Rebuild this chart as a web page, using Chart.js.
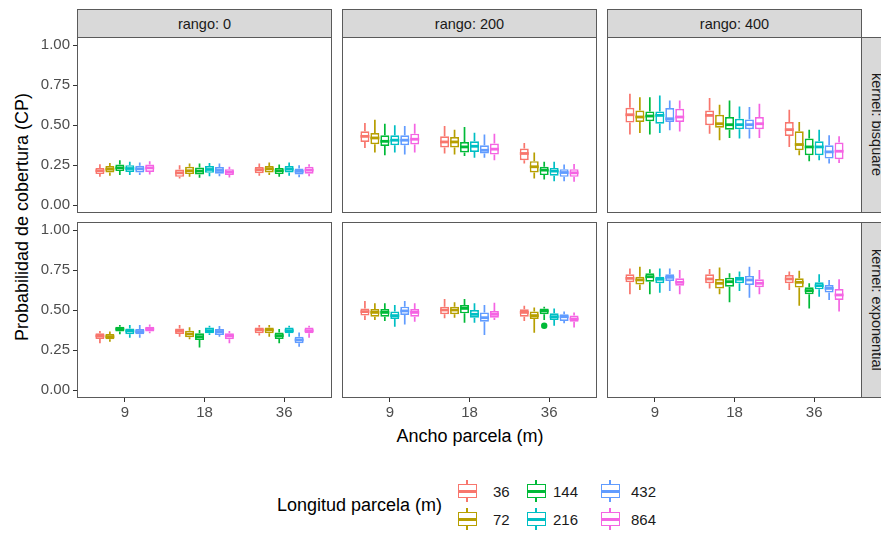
<!DOCTYPE html>
<html>
<head>
<meta charset="utf-8">
<script src="https://cdn.jsdelivr.net/npm/chart.js@4.4.0/dist/chart.umd.min.js"></script>
<style>
    body { margin: 0; width: 881px; height: 533px; overflow: hidden; background: #fff; position: relative;
           font-family: "Liberation Sans", Arial, sans-serif; }
    canvas { position: absolute; }
    .strip { position: absolute; background: #d9d9d9; border: 1px solid #5a5a5a; box-sizing: border-box;
             display: flex; align-items: center; justify-content: center; color: #1a1a1a; font-size: 14.5px; }
    .strip.side { writing-mode: vertical-rl; padding-left: 3px; }
    .title { position: absolute; color: #000; font-size: 18px; white-space: nowrap; }
    .key { position: absolute; width: 21px; height: 22px; }
    .key .wh { position: absolute; left: 9.5px; top: 0; width: 2px; height: 22px; }
    .key .bx { position: absolute; left: 1px; top: 4px; width: 19px; height: 14px; box-sizing: border-box;
               border: 1.6px solid; background: #fff; }
    .key .md { position: absolute; left: 1px; top: 10px; width: 19px; height: 2.5px; }
    .lab { position: absolute; font-size: 15px; color: #1a1a1a; transform: translateY(-50%); }
</style>
</head>
<body>
<div class="title" style="left:22px;top:217px;transform:translate(-50%,-50%) rotate(-90deg)">Probabilidad de cobertura (CP)</div>
<div class="title" style="left:470px;top:436px;transform:translate(-50%,-50%)">Ancho parcela (m)</div>
<div class="title" style="left:277px;top:505px;transform:translateY(-50%)">Longitud parcela (m)</div>
<script>
// facets
const rangos = ['0', '200', '400'];
const kernels = ['bisquare', 'exponential'];
// x categories (ancho) and groups (longitud)
const anchos = ['9', '18', '36'];
const longitudes = ['36', '72', '144', '216', '432', '864'];
const yTicks = [0, 0.25, 0.5, 0.75, 1];
const colors = ['#F8766D', '#B79F00', '#00BA38', '#00BFC4', '#619CFF', '#F564E3'];

// [whisker low, q1, median, q3, whisker high] per longitud (rows) and ancho 9 / 18 / 36
const bisquare_0 = [
    [[0.176, 0.193, 0.214, 0.232, 0.255], [0.166, 0.176, 0.201, 0.222, 0.249], [0.183, 0.199, 0.220, 0.237, 0.259]],
    [[0.183, 0.203, 0.224, 0.243, 0.263], [0.176, 0.193, 0.214, 0.239, 0.259], [0.187, 0.203, 0.226, 0.243, 0.266]],
    [[0.187, 0.212, 0.232, 0.253, 0.280], [0.170, 0.191, 0.212, 0.234, 0.259], [0.176, 0.193, 0.214, 0.232, 0.253]],
    [[0.187, 0.207, 0.228, 0.249, 0.270], [0.180, 0.201, 0.222, 0.243, 0.263], [0.183, 0.203, 0.224, 0.243, 0.266]],
    [[0.187, 0.203, 0.226, 0.245, 0.266], [0.180, 0.195, 0.216, 0.237, 0.259], [0.174, 0.191, 0.210, 0.228, 0.249]],
    [[0.191, 0.207, 0.232, 0.253, 0.274], [0.172, 0.187, 0.205, 0.224, 0.239], [0.180, 0.195, 0.218, 0.239, 0.255]]
];
const bisquare_200 = [
    [[0.357, 0.394, 0.429, 0.461, 0.512], [0.322, 0.359, 0.394, 0.429, 0.494], [0.259, 0.280, 0.322, 0.353, 0.388]],
    [[0.328, 0.380, 0.419, 0.450, 0.533], [0.315, 0.359, 0.394, 0.425, 0.471], [0.166, 0.203, 0.239, 0.274, 0.328]],
    [[0.311, 0.369, 0.398, 0.436, 0.508], [0.307, 0.328, 0.363, 0.394, 0.488], [0.160, 0.187, 0.218, 0.239, 0.270]],
    [[0.328, 0.373, 0.405, 0.436, 0.498], [0.295, 0.332, 0.367, 0.398, 0.452], [0.149, 0.183, 0.212, 0.232, 0.270]],
    [[0.315, 0.373, 0.405, 0.436, 0.494], [0.295, 0.322, 0.342, 0.373, 0.440], [0.149, 0.176, 0.203, 0.224, 0.253]],
    [[0.328, 0.378, 0.411, 0.446, 0.508], [0.280, 0.315, 0.349, 0.384, 0.446], [0.145, 0.176, 0.201, 0.224, 0.257]]
];
const bisquare_400 = [
    [[0.440, 0.515, 0.564, 0.608, 0.695], [0.446, 0.498, 0.560, 0.591, 0.668], [0.363, 0.432, 0.471, 0.519, 0.595]],
    [[0.450, 0.519, 0.550, 0.591, 0.674], [0.405, 0.483, 0.508, 0.564, 0.627], [0.311, 0.342, 0.378, 0.461, 0.519]],
    [[0.440, 0.523, 0.556, 0.585, 0.674], [0.419, 0.471, 0.502, 0.550, 0.653], [0.274, 0.311, 0.363, 0.415, 0.471]],
    [[0.450, 0.508, 0.560, 0.585, 0.685], [0.415, 0.473, 0.502, 0.539, 0.616], [0.280, 0.311, 0.363, 0.398, 0.471]],
    [[0.467, 0.519, 0.539, 0.606, 0.653], [0.415, 0.473, 0.502, 0.535, 0.612], [0.259, 0.290, 0.332, 0.373, 0.436]],
    [[0.460, 0.519, 0.550, 0.602, 0.653], [0.419, 0.473, 0.508, 0.550, 0.633], [0.263, 0.286, 0.336, 0.390, 0.429]]
];
const exponential_0 = [
    [[0.292, 0.319, 0.338, 0.354, 0.369], [0.333, 0.350, 0.369, 0.385, 0.406], [0.340, 0.354, 0.375, 0.390, 0.406]],
    [[0.302, 0.317, 0.333, 0.350, 0.365], [0.317, 0.329, 0.350, 0.371, 0.392], [0.333, 0.354, 0.375, 0.390, 0.406]],
    [[0.348, 0.365, 0.381, 0.396, 0.406], [0.265, 0.313, 0.333, 0.354, 0.375], [0.292, 0.319, 0.340, 0.360, 0.381]],
    [[0.327, 0.348, 0.369, 0.385, 0.406], [0.344, 0.354, 0.371, 0.390, 0.402], [0.333, 0.354, 0.371, 0.390, 0.402]],
    [[0.327, 0.348, 0.365, 0.381, 0.406], [0.333, 0.344, 0.365, 0.381, 0.400], [0.271, 0.292, 0.313, 0.333, 0.360]],
    [[0.354, 0.365, 0.381, 0.396, 0.410], [0.292, 0.317, 0.338, 0.354, 0.369], [0.327, 0.354, 0.371, 0.390, 0.402]]
];
const exponential_200 = [
    [[0.438, 0.465, 0.490, 0.510, 0.556], [0.448, 0.473, 0.500, 0.521, 0.569], [0.431, 0.458, 0.485, 0.504, 0.527]],
    [[0.438, 0.458, 0.485, 0.506, 0.542], [0.452, 0.473, 0.500, 0.521, 0.548], [0.358, 0.444, 0.465, 0.490, 0.515]],
    [[0.431, 0.458, 0.485, 0.506, 0.542], [0.421, 0.479, 0.510, 0.531, 0.569], [0.438, 0.473, 0.494, 0.510, 0.521]],
    [[0.396, 0.444, 0.465, 0.490, 0.531], [0.421, 0.452, 0.473, 0.500, 0.542], [0.402, 0.438, 0.458, 0.479, 0.510]],
    [[0.410, 0.469, 0.494, 0.521, 0.556], [0.344, 0.427, 0.452, 0.485, 0.531], [0.417, 0.431, 0.458, 0.473, 0.490]],
    [[0.427, 0.458, 0.485, 0.506, 0.542], [0.438, 0.452, 0.473, 0.494, 0.546], [0.390, 0.427, 0.444, 0.465, 0.485]]
];
const exponential_400 = [
    [[0.598, 0.673, 0.698, 0.723, 0.760], [0.635, 0.667, 0.694, 0.723, 0.756], [0.625, 0.667, 0.694, 0.719, 0.740]],
    [[0.625, 0.660, 0.688, 0.708, 0.771], [0.598, 0.635, 0.667, 0.694, 0.765], [0.527, 0.640, 0.673, 0.698, 0.746]],
    [[0.598, 0.677, 0.708, 0.729, 0.754], [0.548, 0.646, 0.677, 0.702, 0.729], [0.510, 0.598, 0.621, 0.642, 0.667]],
    [[0.608, 0.667, 0.692, 0.708, 0.760], [0.619, 0.667, 0.692, 0.708, 0.740], [0.583, 0.629, 0.652, 0.673, 0.723]],
    [[0.619, 0.681, 0.704, 0.723, 0.760], [0.577, 0.656, 0.688, 0.713, 0.771], [0.563, 0.610, 0.635, 0.656, 0.688]],
    [[0.598, 0.652, 0.673, 0.698, 0.750], [0.598, 0.642, 0.667, 0.692, 0.750], [0.490, 0.563, 0.594, 0.631, 0.692]]
];
// outliers: kernel, rango, longitud, ancho, value
const outliers = [['exponential', '200', '144', '36', 0.402]];

const panelStats = {
    bisquare: [bisquare_0, bisquare_200, bisquare_400],
    exponential: [exponential_0, exponential_200, exponential_400]
};

// layout
const colX = [77, 342, 607];
const rowY = [37, 222];
const panelW = 255, panelH = 176;
const yAxisW = 45, xAxisH = 30;
const tickFont = { family: 'Liberation Sans', size: 15 };

// draws whiskers, medians, outliers and the panel frame
const boxplotPlugin = {
    id: 'boxplot',
    afterDatasetsDraw(chart) {
        const ctx = chart.ctx;
        const y = chart.scales.y;
        chart.data.datasets.forEach((ds, k) => {
            const meta = chart.getDatasetMeta(k);
            meta.data.forEach((bar, j) => {
                const [lo, q1, med, q3, hi] = ds.stats[j];
                ctx.save();
                ctx.strokeStyle = ds.borderColor;
                ctx.lineWidth = 1.7;
                ctx.beginPath();
                ctx.moveTo(bar.x, y.getPixelForValue(hi));
                ctx.lineTo(bar.x, y.getPixelForValue(q3));
                ctx.moveTo(bar.x, y.getPixelForValue(q1));
                ctx.lineTo(bar.x, y.getPixelForValue(lo));
                ctx.stroke();
                ctx.lineWidth = 2.8;
                ctx.beginPath();
                ctx.moveTo(bar.x - bar.width / 2, y.getPixelForValue(med));
                ctx.lineTo(bar.x + bar.width / 2, y.getPixelForValue(med));
                ctx.stroke();
                ctx.fillStyle = ds.borderColor;
                ds.outliers.filter(o => o[0] === j).forEach(o => {
                    ctx.beginPath();
                    ctx.arc(bar.x, y.getPixelForValue(o[1]), 3.2, 0, Math.PI * 2);
                    ctx.fill();
                });
                ctx.restore();
            });
        });
        const a = chart.chartArea;
        ctx.save();
        ctx.strokeStyle = '#5a5a5a';
        ctx.lineWidth = 1;
        ctx.strokeRect(a.left + 0.5, a.top + 0.5, a.right - a.left - 1, a.bottom - a.top - 1);
        ctx.restore();
    }
};

function makePanel(r, c) {
    const kernel = kernels[r], rango = rangos[c];
    const stats = panelStats[kernel][c];
    const hasY = c === 0, hasX = r === 1;
    const w = panelW + (hasY ? yAxisW : 0);
    const h = panelH + (hasX ? xAxisH : 0);
    const canvas = document.createElement('canvas');
    canvas.width = w;
    canvas.height = h;
    canvas.style.left = (colX[c] - (hasY ? yAxisW : 0)) + 'px';
    canvas.style.top = rowY[r] + 'px';
    canvas.style.width = w + 'px';
    canvas.style.height = h + 'px';
    document.body.appendChild(canvas);

    new Chart(canvas.getContext('2d'), {
        type: 'bar',
        data: {
            datasets: longitudes.map((lon, k) => ({
                label: lon,
                data: anchos.map((a, j) => ({ x: j + 1, y: [stats[k][j][1], stats[k][j][3]] })),
                stats: stats[k],
                outliers: outliers
                    .filter(o => o[0] === kernel && o[1] === rango && o[2] === lon)
                    .map(o => [anchos.indexOf(o[3]), o[4]]),
                backgroundColor: '#fff',
                borderColor: colors[k],
                borderWidth: 1.7,
                borderSkipped: false,
                categoryPercentage: 0.75,
                barPercentage: 0.9
            }))
        },
        options: {
            responsive: false,
            animation: false,
            devicePixelRatio: 1,
            layout: { padding: 0 },
            plugins: {
                legend: { display: false },
                tooltip: { enabled: false }
            },
            scales: {
                x: {
                    type: 'linear',
                    min: 0.4,
                    max: 3.6,
                    offset: false,
                    display: hasX,
                    afterBuildTicks: s => { s.ticks = anchos.map((a, j) => ({ value: j + 1 })); },
                    afterFit: s => {
                        s.height = hasX ? xAxisH : 0;
                        s.paddingLeft = 0;
                        s.paddingRight = 0;
                    },
                    ticks: {
                        callback: v => anchos[v - 1],
                        color: '#4d4d4d',
                        font: tickFont,
                        padding: 2,
                        maxRotation: 0,
                        autoSkip: false
                    },
                    grid: { offset: false, drawOnChartArea: false, drawTicks: true, tickLength: 4, color: '#333' },
                    border: { display: false }
                },
                y: {
                    min: -0.05,
                    max: 1.05,
                    display: hasY,
                    afterBuildTicks: s => { s.ticks = yTicks.map(v => ({ value: v })); },
                    afterFit: s => {
                        s.width = hasY ? yAxisW : 0;
                        s.paddingTop = 0;
                        s.paddingBottom = 0;
                    },
                    ticks: {
                        callback: v => v.toFixed(2),
                        color: '#4d4d4d',
                        font: tickFont,
                        padding: 3
                    },
                    grid: { drawOnChartArea: false, drawTicks: true, tickLength: 4, color: '#333' },
                    border: { display: false }
                }
            }
        },
        plugins: [boxplotPlugin]
    });
}

// strips
rangos.forEach((rg, c) => {
    const d = document.createElement('div');
    d.className = 'strip';
    d.style.cssText = `left:${colX[c]}px;top:9px;width:${panelW}px;height:29px`;
    d.textContent = 'rango: ' + rg;
    document.body.appendChild(d);
});
kernels.forEach((kn, r) => {
    const d = document.createElement('div');
    d.className = 'strip side';
    d.style.cssText = `left:${colX[2] + panelW - 1}px;top:${rowY[r]}px;width:29px;height:${panelH}px`;
    d.textContent = 'kernel: ' + kn;
    document.body.appendChild(d);
});

kernels.forEach((kn, r) => rangos.forEach((rg, c) => makePanel(r, c)));

// legend
const keyCols = [467, 536, 610];
const keyRows = [491, 519];
const labCols = [493, 553, 631];
longitudes.forEach((lon, k) => {
    const col = Math.floor(k / 2), row = k % 2;
    const key = document.createElement('div');
    key.className = 'key';
    key.style.left = (keyCols[col] - 10.5) + 'px';
    key.style.top = (keyRows[row] - 11) + 'px';
    key.innerHTML = `<div class="wh" style="background:${colors[k]}"></div>` +
        `<div class="bx" style="border-color:${colors[k]}"></div>` +
        `<div class="md" style="background:${colors[k]}"></div>`;
    document.body.appendChild(key);
    const lab = document.createElement('div');
    lab.className = 'lab';
    lab.style.left = labCols[col] + 'px';
    lab.style.top = keyRows[row] + 'px';
    lab.textContent = lon;
    document.body.appendChild(lab);
});
</script>
</body>
</html>
